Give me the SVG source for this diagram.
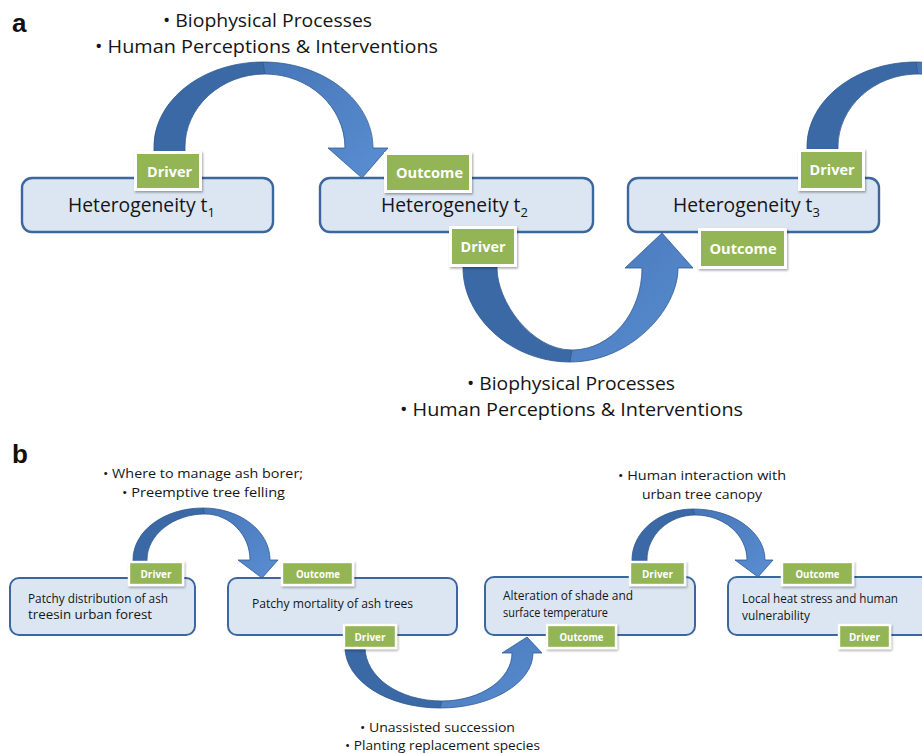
<svg xmlns="http://www.w3.org/2000/svg" width="922" height="754" viewBox="0 0 922 754">
<defs>
<style>
.box{fill:#dce6f2;stroke:#3b679e;stroke-width:2.4}
.boxb{fill:#dce6f2;stroke:#3b679e;stroke-width:2}
.lbl{fill:#93b554;stroke:#ffffff;stroke-width:3;filter:url(#sh)}
.lblb{fill:#93b554;stroke:#ffffff;stroke-width:2.4;filter:url(#sh)}
.lt{fill:#ffffff;font-family:"Open Sans","Liberation Sans",sans-serif;font-weight:bold;font-size:15px}
.ltb{fill:#ffffff;font-family:"Open Sans","Liberation Sans",sans-serif;font-weight:bold;font-size:10px}
.txt{font-family:"Open Sans","Liberation Sans",sans-serif;fill:#151515}
.het{font-family:"Open Sans","Liberation Sans",sans-serif;fill:#151515;font-size:19.3px}
.dark{fill:#3b69a6;stroke:#30598f;stroke-width:0.8}
.light{fill:url(#lg);stroke:#30598f;stroke-width:0.8}
.panel{font-family:"Liberation Sans",Arial,sans-serif;font-weight:bold;font-size:26px;fill:#111}
</style>
<linearGradient id="lg" x1="0" y1="0" x2="1" y2="1">
<stop offset="0" stop-color="#4676b8"/>
<stop offset="1" stop-color="#5a8ed2"/>
</linearGradient>
<filter id="sh" x="-20%" y="-20%" width="140%" height="150%">
<feDropShadow dx="1" dy="1.5" stdDeviation="1.2" flood-color="#000" flood-opacity="0.35"/>
</filter>
</defs>
<rect width="922" height="754" fill="#ffffff"/>

<text class="panel" x="12" y="32">a</text>
<text class="panel" x="12" y="463">b</text>

<g id="node-t1">
<rect class="box" x="22" y="178" width="251" height="54" rx="10"/>
<text class="het" x="68" y="212">Heterogeneity t<tspan font-size="13" dy="5">1</tspan></text>
</g>
<g id="node-t2">
<rect class="box" x="320" y="178" width="273" height="54" rx="10"/>
<text class="het" x="381" y="212">Heterogeneity t<tspan font-size="13" dy="5">2</tspan></text>
</g>
<g id="node-t3">
<rect class="box" x="628" y="178" width="251" height="54" rx="10"/>
<text class="het" x="673" y="212">Heterogeneity t<tspan font-size="13" dy="5">3</tspan></text>
</g>

<g id="node-b1">
<rect class="boxb" x="10" y="578" width="185" height="57" rx="9"/>
<text class="txt" x="28" y="603" font-size="12" textLength="140" lengthAdjust="spacingAndGlyphs">Patchy distribution of ash</text>
<text class="txt" x="28" y="619" font-size="12" textLength="124" lengthAdjust="spacingAndGlyphs">treesin urban forest</text>
</g>
<g id="node-b2">
<rect class="boxb" x="228" y="578" width="229" height="57" rx="9"/>
<text class="txt" x="252" y="608" font-size="12" textLength="161" lengthAdjust="spacingAndGlyphs">Patchy mortality of ash trees</text>
</g>
<g id="node-b3">
<rect class="boxb" x="485" y="577" width="210" height="58" rx="9"/>
<text class="txt" x="503" y="600" font-size="12" textLength="130" lengthAdjust="spacingAndGlyphs">Alteration of shade and</text>
<text class="txt" x="503" y="617" font-size="12" textLength="105" lengthAdjust="spacingAndGlyphs">surface temperature</text>
</g>
<g id="node-b4">
<rect class="boxb" x="728" y="577" width="214" height="58" rx="9"/>
<text class="txt" x="742" y="603" font-size="12" textLength="156" lengthAdjust="spacingAndGlyphs">Local heat stress and human</text>
<text class="txt" x="742" y="620" font-size="12" textLength="68" lengthAdjust="spacingAndGlyphs">vulnerability</text>
</g>

<g id="connectors">
<g id="arrow-a1">
<path class="dark" d="M154,162 L154,147 C154,100 203,62 263,62 L265,74 C221,74 185,107 185,147 L185,162 Z"/>
<path class="light" d="M263,62 C324,62 373,101 373,148 L388,148 L362,178 L328,148 L345,148 C345,107 309,74 265,74 Z"/>
</g>
<g id="arrow-a2">
<path class="dark" d="M463,258 L463,268 C463,317 511,362 570,362 L572,350 C531,350 497,301 497,268 L497,258 Z"/>
<path class="light" d="M570,362 C630,362 678,310 678,268 L693,268 L662,233 L625,268 L642,268 C642,313 611,350 572,350 Z"/>
</g>
<g id="arrow-a3">
<path class="dark" d="M807,162 L807,147 C807,100 856,62 916,62 L918,74 C874,74 838,107 838,147 L838,162 Z"/>
<path class="light" d="M916,62 C977,62 1026,101 1026,148 L1041,148 L1015,178 L981,148 L998,148 C998,107 962,74 918,74 Z"/>
</g>
<g id="arrow-b1">
<path class="dark" d="M133,566 L133,560 C133,531 164,508 203,508 L205,514 C173,514 147,535 147,560 L147,566 Z"/>
<path class="light" d="M203,508 C240,508 270,531 270,560 L278,560 L262,578 L238,560 L250,560 C250,535 230,514 205,514 Z"/>
</g>
<g id="arrow-b2">
<path class="dark" d="M345,641 L345,647 C345,681 388,708 440,708 L442,701 C399,701 365,677 365,647 L365,641 Z"/>
<path class="light" d="M440,708 C491,708 533,683 533,653 L542,653 L527,637 L502,653 L512,653 C512,679 481,701 442,701 Z"/>
</g>
<g id="arrow-b3">
<path class="dark" d="M632,566 L632,560 C632,532 659,509 693,509 L695,515 C669,515 647,535 647,560 L647,566 Z"/>
<path class="light" d="M693,509 C733,509 765,532 765,560 L773,560 L758,577 L735,560 L747,560 C747,535 724,515 695,515 Z"/>
</g>
</g>

<g id="label-t1-driver">
<rect class="lbl" x="135.5" y="152.5" width="65" height="37"/>
<text class="lt" x="169.5" y="176.5" text-anchor="middle" textLength="45" lengthAdjust="spacingAndGlyphs">Driver</text>
</g>
<g id="label-t2-outcome">
<rect class="lbl" x="385.5" y="153.5" width="85" height="38"/>
<text class="lt" x="429.5" y="178" text-anchor="middle" textLength="67" lengthAdjust="spacingAndGlyphs">Outcome</text>
</g>
<g id="label-t2-driver">
<rect class="lbl" x="450.5" y="227.5" width="65" height="38"/>
<text class="lt" x="483" y="252" text-anchor="middle" textLength="45" lengthAdjust="spacingAndGlyphs">Driver</text>
</g>
<g id="label-t3-driver">
<rect class="lbl" x="799.5" y="150.5" width="64" height="39"/>
<text class="lt" x="832" y="175" text-anchor="middle" textLength="45" lengthAdjust="spacingAndGlyphs">Driver</text>
</g>
<g id="label-t3-outcome">
<rect class="lbl" x="699.5" y="229.5" width="86" height="38"/>
<text class="lt" x="743" y="254" text-anchor="middle" textLength="67" lengthAdjust="spacingAndGlyphs">Outcome</text>
</g>

<g id="label-b1-driver">
<rect class="lblb" x="129" y="562" width="54" height="23"/>
<text class="ltb" x="156" y="577.5" text-anchor="middle" textLength="31" lengthAdjust="spacingAndGlyphs">Driver</text>
</g>
<g id="label-b2-outcome">
<rect class="lblb" x="282" y="562" width="71" height="23"/>
<text class="ltb" x="318" y="577.5" text-anchor="middle" textLength="44" lengthAdjust="spacingAndGlyphs">Outcome</text>
</g>
<g id="label-b2-driver">
<rect class="lblb" x="344" y="625" width="52" height="23"/>
<text class="ltb" x="370" y="640.5" text-anchor="middle" textLength="31" lengthAdjust="spacingAndGlyphs">Driver</text>
</g>
<g id="label-b3-driver">
<rect class="lblb" x="630" y="562" width="55" height="23"/>
<text class="ltb" x="657.5" y="577.5" text-anchor="middle" textLength="31" lengthAdjust="spacingAndGlyphs">Driver</text>
</g>
<g id="label-b3-outcome">
<rect class="lblb" x="547" y="625" width="69" height="23"/>
<text class="ltb" x="581.5" y="640.5" text-anchor="middle" textLength="44" lengthAdjust="spacingAndGlyphs">Outcome</text>
</g>
<g id="label-b4-outcome">
<rect class="lblb" x="782" y="562" width="71" height="23"/>
<text class="ltb" x="817.5" y="577.5" text-anchor="middle" textLength="44" lengthAdjust="spacingAndGlyphs">Outcome</text>
</g>
<g id="label-b4-driver">
<rect class="lblb" x="839" y="625" width="51" height="23"/>
<text class="ltb" x="864.5" y="640.5" text-anchor="middle" textLength="31" lengthAdjust="spacingAndGlyphs">Driver</text>
</g>

<g id="annotations">
<text class="txt" x="163" y="27" font-size="19" textLength="209" lengthAdjust="spacingAndGlyphs">• Biophysical Processes</text>
<text class="txt" x="95" y="53" font-size="19" textLength="343" lengthAdjust="spacingAndGlyphs">• Human Perceptions &amp; Interventions</text>
<text class="txt" x="467" y="390" font-size="19" textLength="208" lengthAdjust="spacingAndGlyphs">• Biophysical Processes</text>
<text class="txt" x="400" y="416" font-size="19" textLength="343" lengthAdjust="spacingAndGlyphs">• Human Perceptions &amp; Interventions</text>
<text class="txt" x="103" y="478" font-size="13" textLength="200" lengthAdjust="spacingAndGlyphs">• Where to manage ash borer;</text>
<text class="txt" x="122" y="497" font-size="13" textLength="163" lengthAdjust="spacingAndGlyphs">• Preemptive tree felling</text>
<text class="txt" x="618" y="480" font-size="13" textLength="168" lengthAdjust="spacingAndGlyphs">• Human interaction with</text>
<text class="txt" x="642" y="499" font-size="13" textLength="120" lengthAdjust="spacingAndGlyphs">urban tree canopy</text>
<text class="txt" x="360" y="732" font-size="13" textLength="155" lengthAdjust="spacingAndGlyphs">• Unassisted succession</text>
<text class="txt" x="345" y="750" font-size="13" textLength="195" lengthAdjust="spacingAndGlyphs">• Planting replacement species</text>
</g>
</svg>
